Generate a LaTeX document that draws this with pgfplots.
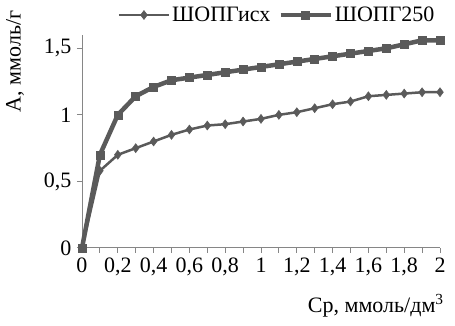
\documentclass[border=0pt]{standalone}
\usepackage{fontspec}
\setmainfont{Liberation Serif}
\usepackage{pgfplots}
\pgfplotsset{compat=1.18}
\definecolor{ser}{HTML}{5A5A5A}
\definecolor{axc}{HTML}{868686}
\begin{document}
\begin{tikzpicture}
\path[use as bounding box] (0pt,0pt) rectangle (455pt,326pt);
\begin{axis}[
  at={(82pt,78pt)}, anchor=south west,
  scale only axis, width=358pt, height=213pt,
  xmin=0, xmax=2, ymin=0, ymax=1.6,
  axis lines=left, axis line style={axc, line width=1pt, -},
  xtick={0,0.2,0.4,0.6,0.8,1,1.2,1.4,1.6,1.8,2},
  minor xtick={0.1,0.3,0.5,0.7,0.9,1.1,1.3,1.5,1.7,1.9},
  ytick={0,0.5,1,1.5},
  tick align=outside, major tick length=5pt, minor tick length=5pt,
  every tick/.style={axc, line width=1pt},
  tick label style={font=\fontsize{22}{26}\selectfont, black},
  /pgf/number format/use comma, /pgf/number format/assume math mode=true,
  xticklabel style={yshift=-1pt},
  yticklabel style={xshift=-2pt},
  clip=false,
  xlabel={Ср, ммоль/дм\textsuperscript{3}},
  xlabel style={at={(axis description cs:1.02,-0.27)}, anchor=east, font=\fontsize{22}{26}\selectfont},
  ylabel={А, ммоль/г},
  ylabel style={at={(axis description cs:-0.187,0.875)}, anchor=center, rotate=0, font=\fontsize{22}{26}\selectfont},
  legend columns=2,
  legend style={at={(axis description cs:0.545,1.094)}, anchor=center, draw=none, fill=none,
    font=\fontsize{22}{26}\selectfont, /tikz/every even column/.append style={column sep=6pt},
    /tikz/every odd column/.append style={column sep=0pt}},
  legend image code/.code={\draw[#1] (0pt,0pt) -- (50pt,0pt); \draw[#1, only marks] plot coordinates {(25pt,0pt)};},
]
\addplot[ser, line width=2.5pt, mark=diamond*, mark size=4.5pt, mark options={line width=0.5pt}] coordinates {
(0,0) (0.1,0.58) (0.2,0.70) (0.3,0.75) (0.4,0.80) (0.5,0.85) (0.6,0.89) (0.7,0.92) (0.8,0.93) (0.9,0.95) (1.0,0.97)
(1.1,1.00) (1.2,1.02) (1.3,1.05) (1.4,1.08) (1.5,1.10) (1.6,1.14) (1.7,1.15) (1.8,1.16) (1.9,1.17) (2.0,1.17)};
\addlegendentry{ШОПГисх}
\addplot[ser, line width=4.5pt, mark=square*, mark size=4pt, mark options={line width=0.5pt}] coordinates {
(0,0) (0.1,0.70) (0.2,1.00) (0.3,1.14) (0.4,1.21) (0.5,1.26) (0.6,1.28) (0.7,1.30) (0.8,1.32) (0.9,1.34) (1.0,1.36)
(1.1,1.38) (1.2,1.40) (1.3,1.42) (1.4,1.44) (1.5,1.46) (1.6,1.48) (1.7,1.50) (1.8,1.53) (1.9,1.56) (2.0,1.56)};
\addlegendentry{ШОПГ250}
\end{axis}
\end{tikzpicture}
\end{document}
